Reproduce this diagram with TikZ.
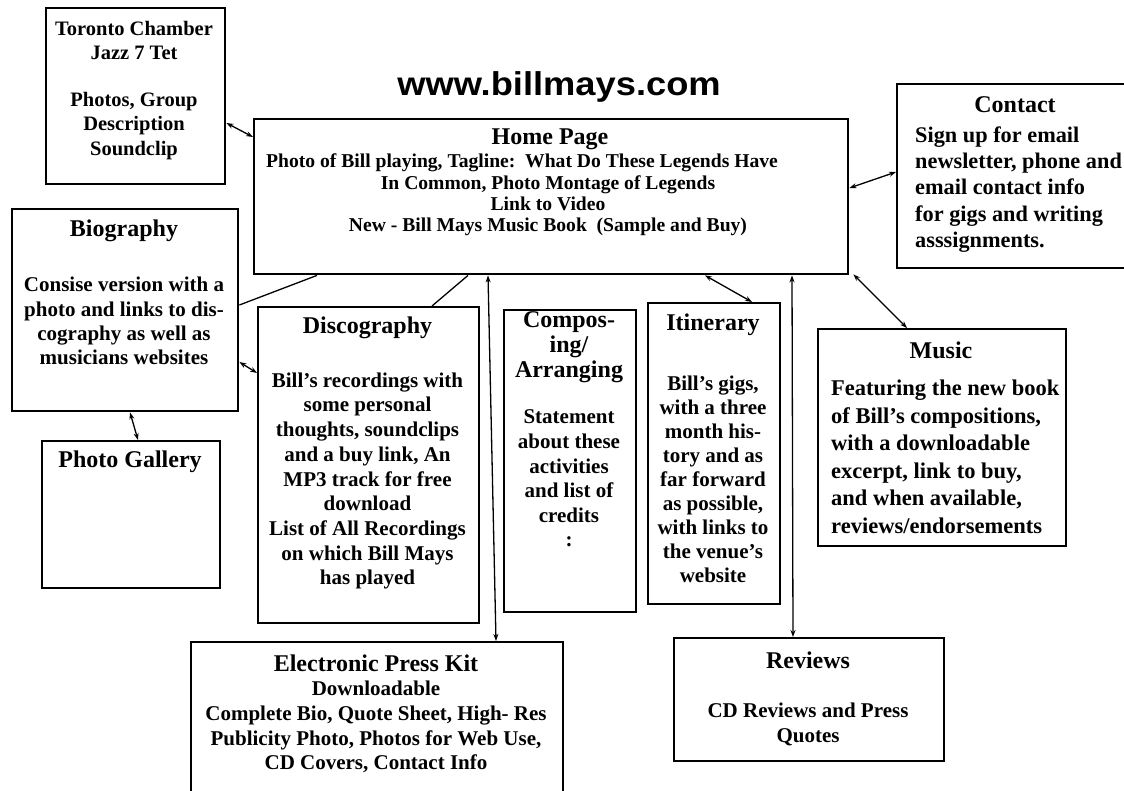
\documentclass[tikz,border=0pt]{standalone}
\usepackage{fontspec}
\setmainfont{Liberation Serif}
\newfontfamily\titlefont{Liberation Sans}
\usetikzlibrary{arrows.meta}
\tikzset{
  box/.style={draw, line width=2.4pt, inner sep=0pt, anchor=north west},
  ttl/.style={font=\fontsize{24}{25}\selectfont\bfseries, inner sep=0pt, align=center},
  bodytxt/.style={font=\fontsize{21}{24.7}\selectfont\bfseries, inner sep=0pt, align=center},
  arr/.style={line width=1.3pt, {Stealth[length=7pt,width=5pt]}-{Stealth[length=7pt,width=5pt]}},
  plainln/.style={line width=1.3pt},
}
\begin{document}
\begin{tikzpicture}[x=1pt,y=-1pt]
\useasboundingbox[fill=white] (0,0) rectangle (1124,791);
% title
\node[font=\titlefont\bfseries\fontsize{33}{34}\selectfont, inner sep=0pt, xscale=1.1] (site) at (559,87) {www.billmays.com};
% boxes
\node[box, minimum width=179pt, minimum height=176pt] (tor) at (45,7) {};
\node[box, minimum width=594pt, minimum height=155pt] (home) at (253,118) {};
\node[box, minimum width=232pt, minimum height=184pt] (contact) at (896,83) {};
\node[box, minimum width=226pt, minimum height=202pt] (bio) at (11,208) {};
\node[box, minimum width=178pt, minimum height=147pt] (gallery) at (41,440) {};
\node[box, minimum width=221pt, minimum height=316pt] (disco) at (257,306) {};
\node[box, minimum width=132pt, minimum height=302pt] (comp) at (503,309) {};
\node[box, minimum width=132pt, minimum height=301pt] (itin) at (647,302) {};
\node[box, minimum width=248pt, minimum height=217pt] (music) at (817,328) {};
\node[box, minimum width=372pt, minimum height=152pt] (press) at (190,641) {};
\node[box, minimum width=270pt, minimum height=123pt] (reviews) at (673,637) {};
% texts
\node[bodytxt, font=\fontsize{20.5}{24.5}\selectfont\bfseries] (tort) at (134,40.5) {Toronto Chamber\\Jazz 7 Tet};
\node[bodytxt, font=\fontsize{20.5}{24.5}\selectfont\bfseries] (torb) at (134,126) {Photos, Group\\Description\\Soundclip};
\node[ttl] (homet) at (550,139) {Home Page};
\node[bodytxt, font=\fontsize{19.6}{21.3}\selectfont\bfseries] (homeb) at (548,195) {\hspace*{-52pt}Photo of Bill playing, Tagline:\ \ What Do These Legends Have\\In Common, Photo Montage of Legends\\Link to Video\\New - Bill Mays Music Book\ \ (Sample and Buy)};
\node[ttl] (contactt) at (1015,105) {Contact};
\node[bodytxt, font=\fontsize{22.3}{26.2}\selectfont\bfseries, align=left, anchor=west] (contactb) at (915,189.5) {Sign up for email\\newsletter, phone and\\email contact info\\for gigs and writing\\asssignments.};
\node[ttl] (biot) at (124,231) {Biography};
\node[bodytxt, font=\fontsize{21}{24.3}\selectfont\bfseries] (biob) at (124,321) {Consise version with a\\photo and links to dis-\\cography as well as\\musicians websites};
\node[ttl] (galleryt) at (130,462) {Photo Gallery};
\node[ttl] (discot) at (367.5,328) {Discography};
\node[bodytxt] (discob) at (367.5,481) {Bill's recordings with\\some personal\\thoughts, soundclips\\and a buy link, An\\MP3 track for free\\download\\List of All Recordings\\on which Bill Mays\\has played};
\node[ttl, font=\fontsize{24}{25}\selectfont\bfseries] (compt) at (569,347) {Compos-\\ing/\\Arranging};
\node[bodytxt, font=\fontsize{21}{24.6}\selectfont\bfseries] (compb) at (569,478.5) {Statement\\about these\\activities\\and list of\\credits\\:};
\node[ttl] (itint) at (713,325) {Itinerary};
\node[bodytxt, font=\fontsize{21}{24}\selectfont\bfseries] (itinb) at (713,479) {Bill's gigs,\\with a three\\month his-\\tory and as\\far forward\\as possible,\\with links to\\the venue's\\website};
\node[ttl] (musict) at (941,350) {Music};
\node[bodytxt, font=\fontsize{22.5}{27.5}\selectfont\bfseries, align=left, anchor=west] (musicb) at (831,456.75) {Featuring the new book\\of Bill's compositions,\\with a downloadable\\excerpt, link to buy,\\and when available,\\reviews/endorsements};
\node[ttl] (presst) at (376,663) {Electronic Press Kit};
\node[bodytxt] (pressb) at (376,727) {Downloadable\\Complete Bio, Quote Sheet, High- Res\\Publicity Photo, Photos for Web Use,\\CD Covers, Contact Info};
\node[ttl] (reviewst) at (808,660) {Reviews};
\node[bodytxt, font=\fontsize{21}{25}\selectfont\bfseries] (reviewsb) at (808,724.5) {CD Reviews and Press\\Quotes};
% connectors
\draw[arr] ([yshift=-116pt]tor.north east) -- ([yshift=-19pt]home.north west);
\draw[arr] ([yshift=-70pt]home.north east) -- ([yshift=-89pt]contact.north west);
\draw[plainln] ([yshift=-97pt]bio.north east) -- ([xshift=64pt]home.south west);
\draw[plainln] ([xshift=215pt]home.south west) -- ([xshift=175pt]disco.north west);
\draw[arr] ([yshift=-154pt]bio.north east) -- ([yshift=-67pt]disco.north west);
\draw[arr] ([xshift=119pt]bio.south west) -- ([xshift=97pt]gallery.north west);
\draw[arr] ([xshift=235pt]home.south west) -- ([xshift=306pt]press.north west);
\draw[arr] ([xshift=452pt]home.south west) -- ([xshift=105pt]itin.north west);
\draw[arr] ([xshift=539pt]home.south west) -- ([xshift=120pt]reviews.north west);
\draw[arr] ([xshift=4pt,yshift=1pt]home.south east) -- ([xshift=90pt]music.north west);
\end{tikzpicture}
\end{document}
